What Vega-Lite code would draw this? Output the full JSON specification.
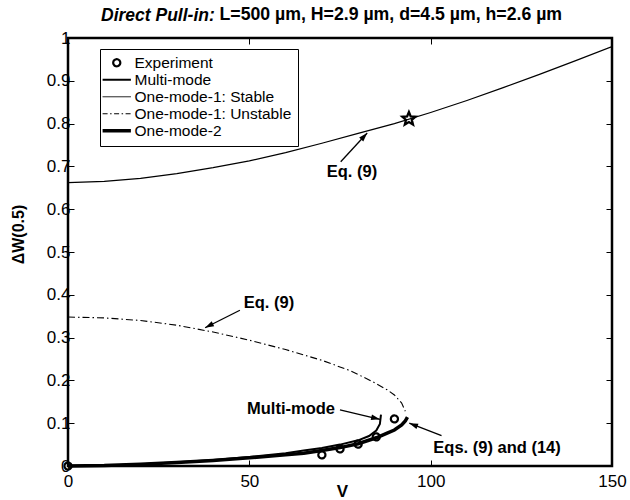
{
  "$schema": "https://vega.github.io/schema/vega-lite/v6.json",
  "width": 544,
  "height": 428,
  "autosize": {"type": "none"},
  "padding": {"left": 68, "top": 38, "right": 18, "bottom": 34},
  "background": "white",
  "title": {"text": "Direct Pull-in:", "anchor": "start", "frame": "group", "dx": 33, "dy": 23, "fontSize": 17.5, "fontWeight": "bold", "fontStyle": "italic", "font": "Liberation Sans", "color": "black"},
  "config": {
    "font": "Liberation Sans",
    "view": {"stroke": "black", "strokeWidth": 2.5},
    "axis": {"grid": false, "domain": false, "tickColor": "black", "tickWidth": 1, "tickSize": -6, "labelFlush": false, "labelColor": "black", "titleColor": "black", "labelFont": "Liberation Sans", "labelFontSize": 17, "labelFontWeight": "normal", "titleFont": "Liberation Sans", "titleFontSize": 17, "titleFontWeight": "bold"}
  },
  "datasets": {
    "curves": [
      {"s": "One-mode-1: Stable", "V": 0, "W": 0.662},
      {"s": "One-mode-1: Stable", "V": 10, "W": 0.665},
      {"s": "One-mode-1: Stable", "V": 20, "W": 0.672},
      {"s": "One-mode-1: Stable", "V": 30, "W": 0.683},
      {"s": "One-mode-1: Stable", "V": 40, "W": 0.697},
      {"s": "One-mode-1: Stable", "V": 50, "W": 0.713},
      {"s": "One-mode-1: Stable", "V": 60, "W": 0.732},
      {"s": "One-mode-1: Stable", "V": 70, "W": 0.754},
      {"s": "One-mode-1: Stable", "V": 80, "W": 0.777},
      {"s": "One-mode-1: Stable", "V": 90, "W": 0.800},
      {"s": "One-mode-1: Stable", "V": 100, "W": 0.826},
      {"s": "One-mode-1: Stable", "V": 110, "W": 0.854},
      {"s": "One-mode-1: Stable", "V": 120, "W": 0.884},
      {"s": "One-mode-1: Stable", "V": 130, "W": 0.915},
      {"s": "One-mode-1: Stable", "V": 140, "W": 0.947},
      {"s": "One-mode-1: Stable", "V": 150, "W": 0.980},
      {"s": "One-mode-1: Unstable", "V": 0, "W": 0.348},
      {"s": "One-mode-1: Unstable", "V": 10, "W": 0.346},
      {"s": "One-mode-1: Unstable", "V": 20, "W": 0.340},
      {"s": "One-mode-1: Unstable", "V": 30, "W": 0.329},
      {"s": "One-mode-1: Unstable", "V": 40, "W": 0.313},
      {"s": "One-mode-1: Unstable", "V": 50, "W": 0.294},
      {"s": "One-mode-1: Unstable", "V": 60, "W": 0.272},
      {"s": "One-mode-1: Unstable", "V": 70, "W": 0.247},
      {"s": "One-mode-1: Unstable", "V": 78, "W": 0.222},
      {"s": "One-mode-1: Unstable", "V": 84, "W": 0.197},
      {"s": "One-mode-1: Unstable", "V": 88, "W": 0.178},
      {"s": "One-mode-1: Unstable", "V": 90, "W": 0.166},
      {"s": "One-mode-1: Unstable", "V": 92, "W": 0.147},
      {"s": "One-mode-1: Unstable", "V": 93, "W": 0.128},
      {"s": "Multi-mode", "V": 0, "W": 0},
      {"s": "Multi-mode", "V": 10, "W": 0.001},
      {"s": "Multi-mode", "V": 20, "W": 0.004},
      {"s": "Multi-mode", "V": 30, "W": 0.009},
      {"s": "Multi-mode", "V": 40, "W": 0.014},
      {"s": "Multi-mode", "V": 50, "W": 0.021},
      {"s": "Multi-mode", "V": 60, "W": 0.030},
      {"s": "Multi-mode", "V": 65, "W": 0.036},
      {"s": "Multi-mode", "V": 70, "W": 0.042},
      {"s": "Multi-mode", "V": 75, "W": 0.050},
      {"s": "Multi-mode", "V": 80, "W": 0.060},
      {"s": "Multi-mode", "V": 83, "W": 0.070},
      {"s": "Multi-mode", "V": 85, "W": 0.083},
      {"s": "Multi-mode", "V": 86, "W": 0.098},
      {"s": "Multi-mode", "V": 86.3, "W": 0.120},
      {"s": "One-mode-2", "V": 0, "W": 0},
      {"s": "One-mode-2", "V": 10, "W": 0.001},
      {"s": "One-mode-2", "V": 20, "W": 0.004},
      {"s": "One-mode-2", "V": 30, "W": 0.008},
      {"s": "One-mode-2", "V": 40, "W": 0.013},
      {"s": "One-mode-2", "V": 50, "W": 0.019},
      {"s": "One-mode-2", "V": 60, "W": 0.026},
      {"s": "One-mode-2", "V": 65, "W": 0.030},
      {"s": "One-mode-2", "V": 70, "W": 0.036},
      {"s": "One-mode-2", "V": 75, "W": 0.043},
      {"s": "One-mode-2", "V": 80, "W": 0.052},
      {"s": "One-mode-2", "V": 85, "W": 0.066},
      {"s": "One-mode-2", "V": 88, "W": 0.077},
      {"s": "One-mode-2", "V": 90, "W": 0.084},
      {"s": "One-mode-2", "V": 92, "W": 0.096},
      {"s": "One-mode-2", "V": 93, "W": 0.105},
      {"s": "One-mode-2", "V": 93.6, "W": 0.114}
    ],
    "exp": [
      {"s": "Experiment", "V": 0, "W": 0},
      {"s": "Experiment", "V": 70, "W": 0.026},
      {"s": "Experiment", "V": 75, "W": 0.040},
      {"s": "Experiment", "V": 80, "W": 0.051},
      {"s": "Experiment", "V": 85, "W": 0.068},
      {"s": "Experiment", "V": 90, "W": 0.110}
    ],
    "star": [{"V": 94, "W": 0.811}],
    "arrows": [
      {"V": 75.2, "W": 0.711, "V2": 82.5, "W2": 0.778},
      {"V": 47.4, "W": 0.364, "V2": 37.8, "W2": 0.323},
      {"V": 75.0, "W": 0.131, "V2": 86.0, "W2": 0.109},
      {"V": 103.0, "W": 0.071, "V2": 94.1, "W2": 0.100}
    ],
    "notes": [
      {"V": 78.3, "W": 0.687, "label": "Eq. (9)"},
      {"V": 55.4, "W": 0.381, "label": "Eq. (9)"},
      {"V": 61.5, "W": 0.133, "label": "Multi-mode"},
      {"V": 118.3, "W": 0.042, "label": "Eqs. (9) and (14)"}
    ]
  },
  "resolve": {"axis": {"x": "independent", "y": "independent"}},
  "layer": [
    {
      "data": {"name": "curves"},
      "transform": [{"filter": "datum.s === 'One-mode-1: Stable'"}],
      "mark": {"type": "line", "color": "black", "strokeWidth": 1.2, "clip": true},
      "encoding": {
        "x": {"field": "V", "type": "quantitative", "scale": {"domain": [0, 150], "nice": false},
          "axis": {"orient": "bottom", "values": [0, 50, 100, 150], "labelPadding": 13, "title": "V", "titleX": 274, "titleY": 25, "titleBaseline": "middle", "titleAlign": "center"}},
        "y": {"field": "W", "type": "quantitative", "scale": {"domain": [0, 1], "nice": false},
          "axis": {"orient": "left", "values": [0, 0.1, 0.2, 0.3, 0.4, 0.5, 0.6, 0.7, 0.8, 0.9, 1], "format": "~f", "labelPadding": 4, "title": "ΔW(0.5)", "titleFontSize": 16, "titleX": -50, "titleY": 196, "titleAngle": -90, "titleAlign": "center", "titleBaseline": "middle"}}
      }
    },
    {
      "data": {"name": "curves"},
      "transform": [{"filter": "datum.s === 'One-mode-1: Unstable'"}],
      "mark": {"type": "line", "color": "black", "strokeWidth": 1.1, "strokeDash": [7, 3, 1.5, 3]},
      "encoding": {
        "x": {"field": "V", "type": "quantitative", "scale": {"domain": [0, 150], "nice": false},
          "axis": {"orient": "top", "values": [50, 100], "labels": false, "title": "L=500 µm, H=2.9 µm, d=4.5 µm, h=2.6 µm", "titleX": 151, "titleY": -19, "titleAlign": "left", "titleBaseline": "alphabetic", "titleFontSize": 17.7}},
        "y": {"field": "W", "type": "quantitative", "scale": {"domain": [0, 1], "nice": false},
          "axis": {"orient": "right", "values": [0.1, 0.2, 0.3, 0.4, 0.5, 0.6, 0.7, 0.8, 0.9], "labels": false, "title": null}}
      }
    },
    {
      "data": {"name": "curves"},
      "transform": [{"filter": "datum.s === 'Multi-mode'"}],
      "mark": {"type": "line", "color": "black", "strokeWidth": 2},
      "encoding": {
        "x": {"field": "V", "type": "quantitative", "scale": {"domain": [0, 150], "nice": false}, "axis": null},
        "y": {"field": "W", "type": "quantitative", "scale": {"domain": [0, 1], "nice": false}, "axis": null}
      }
    },
    {
      "data": {"name": "curves"},
      "transform": [{"filter": "datum.s === 'One-mode-2'"}],
      "mark": {"type": "line", "color": "black", "strokeWidth": 3.5},
      "encoding": {
        "x": {"field": "V", "type": "quantitative", "scale": {"domain": [0, 150], "nice": false}, "axis": null},
        "y": {"field": "W", "type": "quantitative", "scale": {"domain": [0, 1], "nice": false}, "axis": null}
      }
    },
    {
      "data": {"name": "exp"},
      "mark": {"type": "point", "filled": false, "color": "black", "size": 50, "opacity": 1},
      "encoding": {
        "x": {"field": "V", "type": "quantitative", "scale": {"domain": [0, 150], "nice": false}, "axis": null},
        "y": {"field": "W", "type": "quantitative", "scale": {"domain": [0, 1], "nice": false}, "axis": null},
        "shape": {"field": "s", "type": "nominal",
          "scale": {"domain": ["Experiment", "Multi-mode", "One-mode-1: Stable", "One-mode-1: Unstable", "One-mode-2"],
                    "range": ["circle", "M-4,0H4", "M-4,0H4", "M-4,0H4", "M-4,0H4"]},
          "legend": {"title": null, "orient": "none", "legendX": 32, "legendY": 11, "padding": 6, "strokeColor": "black", "fillColor": "white", "cornerRadius": 0, "labelFont": "Liberation Sans", "labelFontSize": 15.5, "labelColor": "black", "symbolSize": 50, "symbolOffset": 3, "labelOffset": 10, "rowPadding": -0.8, "symbolStrokeColor": "black", "symbolFillColor": "transparent"}},
        "strokeDash": {"field": "s", "type": "nominal",
          "scale": {"domain": ["Experiment", "Multi-mode", "One-mode-1: Stable", "One-mode-1: Unstable", "One-mode-2"],
                    "range": [[1, 0], [1, 0], [1, 0], [5, 2.5, 1.5, 2.5], [1, 0]]},
          "legend": {"title": null, "orient": "none", "legendX": 32, "legendY": 11}},
        "strokeWidth": {"field": "s", "type": "nominal",
          "scale": {"type": "ordinal", "domain": ["Experiment", "Multi-mode", "One-mode-1: Stable", "One-mode-1: Unstable", "One-mode-2"],
                    "range": [2.2, 2, 1, 1, 3.5]},
          "legend": {"title": null, "orient": "none", "legendX": 32, "legendY": 11}}
      }
    },
    {
      "data": {"name": "star"},
      "mark": {"type": "point", "filled": false, "color": "black", "strokeWidth": 2.3, "size": 190, "opacity": 1, "shape": "M0,-1L0.26,-0.36L0.95,-0.31L0.42,0.14L0.59,0.81L0,0.45L-0.59,0.81L-0.42,0.14L-0.95,-0.31L-0.26,-0.36Z"},
      "encoding": {
        "x": {"field": "V", "type": "quantitative", "scale": {"domain": [0, 150], "nice": false}, "axis": null},
        "y": {"field": "W", "type": "quantitative", "scale": {"domain": [0, 1], "nice": false}, "axis": null}
      }
    },
    {
      "data": {"name": "arrows"},
      "mark": {"type": "rule", "color": "black", "strokeWidth": 1.3},
      "encoding": {
        "x": {"field": "V", "type": "quantitative", "scale": {"domain": [0, 150], "nice": false}, "axis": null},
        "y": {"field": "W", "type": "quantitative", "scale": {"domain": [0, 1], "nice": false}, "axis": null},
        "x2": {"field": "V2"},
        "y2": {"field": "W2"}
      }
    },
    {
      "data": {"name": "arrows"},
      "transform": [{"calculate": "atan2((datum.V2 - datum.V) * 544 / 150, (datum.W2 - datum.W) * 428) * 180 / PI", "as": "ang"}],
      "mark": {"type": "point", "filled": true, "color": "black", "size": 64, "opacity": 1, "shape": "M0,0L0.7,2.2L-0.7,2.2Z"},
      "encoding": {
        "x": {"field": "V2", "type": "quantitative", "scale": {"domain": [0, 150], "nice": false}, "axis": null},
        "y": {"field": "W2", "type": "quantitative", "scale": {"domain": [0, 1], "nice": false}, "axis": null},
        "angle": {"field": "ang", "type": "quantitative", "scale": null}
      }
    },
    {
      "data": {"name": "notes"},
      "mark": {"type": "text", "color": "black", "fontSize": 16.5, "fontWeight": "bold", "font": "Liberation Sans", "align": "center", "baseline": "middle"},
      "encoding": {
        "x": {"field": "V", "type": "quantitative", "scale": {"domain": [0, 150], "nice": false}, "axis": null},
        "y": {"field": "W", "type": "quantitative", "scale": {"domain": [0, 1], "nice": false}, "axis": null},
        "text": {"field": "label"}
      }
    }
  ]
}
